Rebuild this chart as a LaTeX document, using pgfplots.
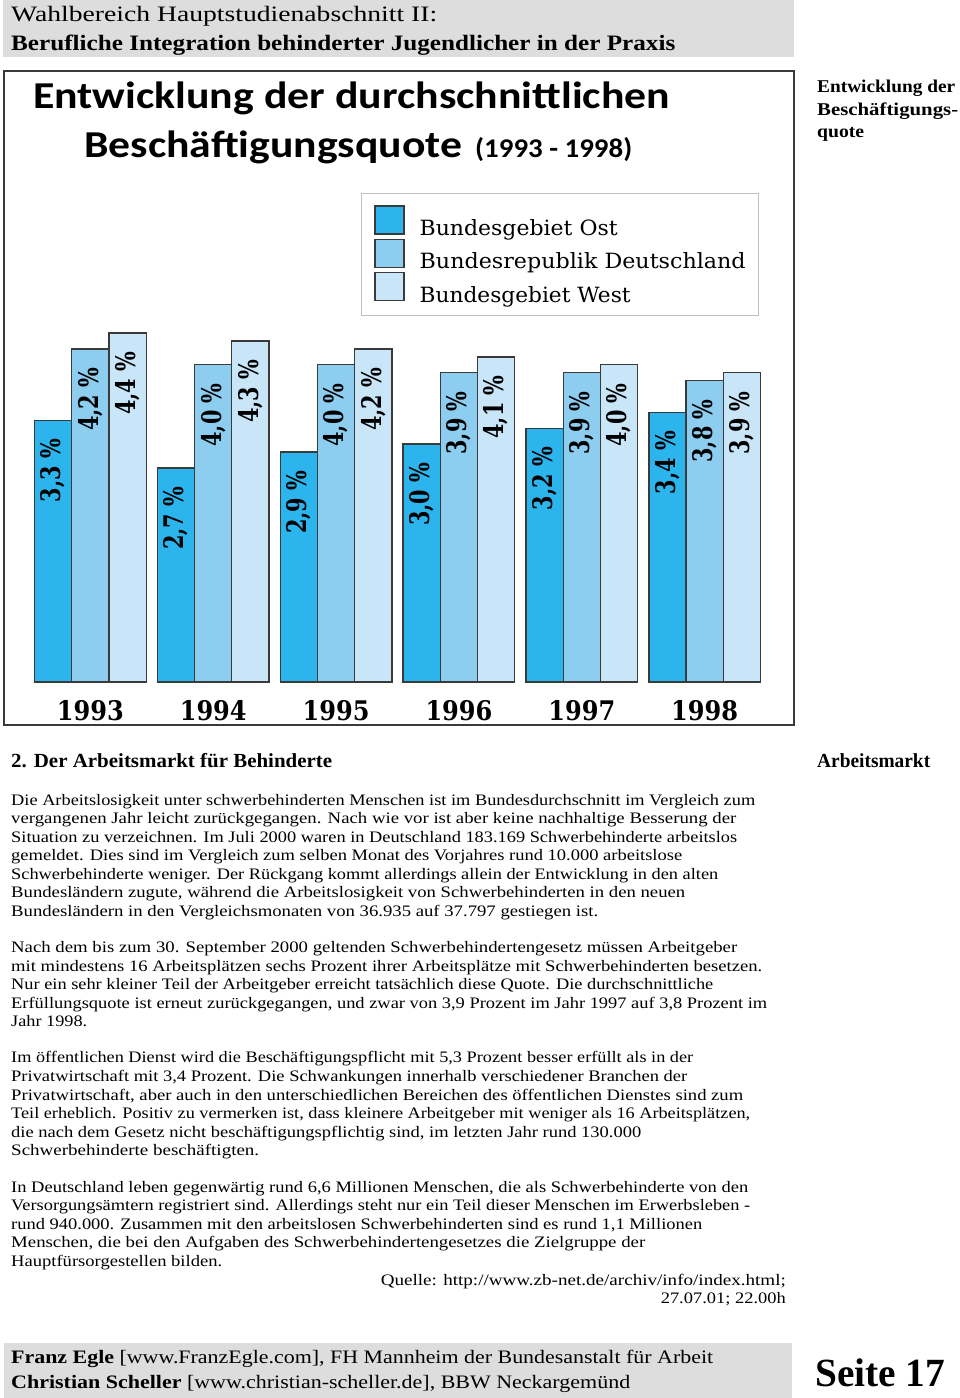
\documentclass[border=0pt]{standalone}
\usepackage{fontspec}
\usepackage{graphicx}
\usepackage{pgfplots}
\pgfplotsset{compat=1.18}
\setmainfont{Liberation Serif}
\newfontfamily\titlefont{Carlito}
\newfontfamily\numfont{DejaVu Serif}
\definecolor{ost}{HTML}{2BB5EC}
\definecolor{brd}{HTML}{8DCDF0}
\definecolor{west}{HTML}{C9E5F8}
\definecolor{edge}{HTML}{3A3A3A}
\definecolor{hdr}{HTML}{DDDDDD}
\newcommand\Ln[4]{\node[anchor=base west,inner sep=0pt] at (#1,-#2) {\resizebox{#3pt}{\height}{#4}};}
\newcommand\Rn[4]{\node[anchor=base east,inner sep=0pt] at (#1,-#2) {\resizebox{#3pt}{\height}{#4}};}
\newcommand\body{\fontsize{16}{18}\selectfont}
\newcommand\vlab{\scalebox{0.77}[1]{\fontsize{27}{27}\numfont\bfseries\pgfmathprintnumber[assume math mode=true,use comma,fixed,fixed zerofill,precision=1]{\pgfplotspointmeta}~\%}}
\newcommand\yr[1]{\scalebox{0.89}[1]{\fontsize{27}{27}\numfont\bfseries #1}}
\newcommand\leg[2]{\resizebox{#1pt}{\height}{\fontsize{21}{21}\numfont #2}}
\pgfplotsset{sq legend/.style={legend image code/.code={\draw[##1] (0pt,-6pt) rectangle (29pt,22pt);}}}
\begin{document}
\begin{tikzpicture}[x=1pt,y=1pt]
\path[use as bounding box] (0,0) rectangle (960,-1398);
% header
\fill[hdr] (3,0) rectangle (794,-57);
\Ln{11}{21}{426}{\fontsize{22}{22}\selectfont Wahlbereich Hauptstudienabschnitt II:}
\Ln{11}{50}{664}{\fontsize{22}{22}\selectfont\bfseries Berufliche Integration behinderter Jugendlicher in der Praxis}
% sidebar
\Ln{817}{92}{138}{\fontsize{18}{18}\selectfont\bfseries Entwicklung der}
\Ln{817}{115}{141}{\fontsize{18}{18}\selectfont\bfseries Beschäftigungs-}
\Ln{817}{137}{47}{\fontsize{18}{18}\selectfont\bfseries quote}
% chart frame
\draw[edge, line width=2pt] (4,-71) rectangle (794,-725);
\Ln{33}{108}{637}{\fontsize{38}{38}\titlefont\bfseries Entwicklung der durchschnittlichen}
\Ln{84}{157}{378}{\fontsize{38}{38}\titlefont\bfseries Beschäftigungsquote}
\Ln{475}{157}{157}{\fontsize{27}{27}\titlefont\bfseries (1993 - 1998)}
\begin{axis}[
  at={(28.93pt,-682pt)}, anchor=south west,
  x=122.86pt, y=79.3pt,
  xmin=-0.5, xmax=5.5, ymin=0, ymax=5,
  ybar=0pt, bar width=37.2pt,
  axis line style={draw=none},
  ytick=\empty, xtick={0,1,2,3,4,5},
  xticklabels={\yr{1993},\yr{1994},\yr{1995},\yr{1996},\yr{1997},\yr{1998}},
  major tick length=0pt, xtick style={draw=none},
  xticklabel style={inner sep=0pt, anchor=north, yshift=-18pt},
  clip=false,
  point meta=y,
  nodes near coords={\rotatebox{90}{\vlab}},
  every node near coord/.append style={anchor=north, inner sep=0pt, yshift=-18pt},
  legend style={at={(0.4504,1.2333)}, anchor=north west, draw=gray!50,
     line width=0.8pt, fill=white, inner xsep=13pt, inner ysep=12pt,
     row sep=2pt, nodes={inner sep=0pt},
     /tikz/every odd column/.append style={column sep=15pt}},
  legend cell align=left,
]
\addplot[fill=ost, draw=edge, line width=1.3pt, sq legend] coordinates {(0,3.3) (1,2.7) (2,2.9) (3,3.0) (4,3.2) (5,3.4)};
\addlegendentry{\leg{198}{Bundesgebiet Ost}}
\addplot[fill=brd, draw=edge, line width=1.3pt, sq legend] coordinates {(0,4.2) (1,4.0) (2,4.0) (3,3.9) (4,3.9) (5,3.8)};
\addlegendentry{\leg{326}{Bundesrepublik Deutschland}}
\addplot[fill=west, draw=edge, line width=1.3pt, sq legend] coordinates {(0,4.4) (1,4.3) (2,4.2) (3,4.1) (4,4.0) (5,3.9)};
\addlegendentry{\leg{211}{Bundesgebiet West}}
\end{axis}
% section heading
\Ln{11}{767}{321}{\fontsize{20}{20}\selectfont\bfseries 2. Der Arbeitsmarkt für Behinderte}
\Ln{817}{767}{113}{\fontsize{20}{20}\selectfont\bfseries Arbeitsmarkt}
% paragraph 1
\Ln{11}{805}{744}{\body Die Arbeitslosigkeit unter schwerbehinderten Menschen ist im Bundesdurchschnitt im Vergleich zum}
\Ln{11}{823.5}{725}{\body vergangenen Jahr leicht zurückgegangen. Nach wie vor ist aber keine nachhaltige Besserung der}
\Ln{11}{842}{726}{\body Situation zu verzeichnen. Im Juli 2000 waren in Deutschland 183.169 Schwerbehinderte arbeitslos}
\Ln{11}{860.5}{671}{\body gemeldet. Dies sind im Vergleich zum selben Monat des Vorjahres rund 10.000 arbeitslose}
\Ln{11}{879}{707}{\body Schwerbehinderte weniger. Der Rückgang kommt allerdings allein der Entwicklung in den alten}
\Ln{11}{897.5}{674}{\body Bundesländern zugute, während die Arbeitslosigkeit von Schwerbehinderten in den neuen}
\Ln{11}{916}{587}{\body Bundesländern in den Vergleichsmonaten von 36.935 auf 37.797 gestiegen ist.}
% paragraph 2
\Ln{11}{952.5}{726}{\body Nach dem bis zum 30. September 2000 geltenden Schwerbehindertengesetz müssen Arbeitgeber}
\Ln{11}{971}{751}{\body mit mindestens 16 Arbeitsplätzen sechs Prozent ihrer Arbeitsplätze mit Schwerbehinderten besetzen.}
\Ln{11}{989.5}{702}{\body Nur ein sehr kleiner Teil der Arbeitgeber erreicht tatsächlich diese Quote. Die durchschnittliche}
\Ln{11}{1008}{756}{\body Erfüllungsquote ist erneut zurückgegangen, und zwar von 3,9 Prozent im Jahr 1997 auf 3,8 Prozent im}
\Ln{11}{1026.5}{76}{\body Jahr 1998.}
% paragraph 3
\Ln{11}{1062.5}{682}{\body Im öffentlichen Dienst wird die Beschäftigungspflicht mit 5,3 Prozent besser erfüllt als in der}
\Ln{11}{1081}{676}{\body Privatwirtschaft mit 3,4 Prozent. Die Schwankungen innerhalb verschiedener Branchen der}
\Ln{11}{1100}{732}{\body Privatwirtschaft, aber auch in den unterschiedlichen Bereichen des öffentlichen Dienstes sind zum}
\Ln{11}{1118.5}{739}{\body Teil erheblich. Positiv zu vermerken ist, dass kleinere Arbeitgeber mit weniger als 16 Arbeitsplätzen,}
\Ln{11}{1137}{630}{\body die nach dem Gesetz nicht beschäftigungspflichtig sind, im letzten Jahr rund 130.000}
\Ln{11}{1155.5}{248}{\body Schwerbehinderte beschäftigten.}
% paragraph 4
\Ln{11}{1192}{737}{\body In Deutschland leben gegenwärtig rund 6,6 Millionen Menschen, die als Schwerbehinderte von den}
\Ln{11}{1210.5}{739}{\body Versorgungsämtern registriert sind. Allerdings steht nur ein Teil dieser Menschen im Erwerbsleben -}
\Ln{11}{1229}{691}{\body rund 940.000. Zusammen mit den arbeitslosen Schwerbehinderten sind es rund 1,1 Millionen}
\Ln{11}{1247.5}{634}{\body Menschen, die bei den Aufgaben des Schwerbehindertengesetzes die Zielgruppe der}
\Ln{11}{1266}{211}{\body Hauptfürsorgestellen bilden.}
\Rn{786}{1285}{405}{\body Quelle: http://www.zb-net.de/archiv/info/index.html;}
\Rn{786}{1303.5}{125}{\body 27.07.01; 22.00h}
% footer
\fill[hdr] (4,-1343) rectangle (792,-1398);
\Ln{11}{1363}{702}{\fontsize{19}{19}\selectfont\textbf{Franz Egle} [www.FranzEgle.com], FH Mannheim der Bundesanstalt für Arbeit}
\Ln{11}{1388}{619}{\fontsize{19}{19}\selectfont\textbf{Christian Scheller} [www.christian-scheller.de], BBW Neckargemünd}
\Ln{815}{1386}{130}{\fontsize{40}{40}\selectfont\bfseries Seite 17}
\end{tikzpicture}
\end{document}
